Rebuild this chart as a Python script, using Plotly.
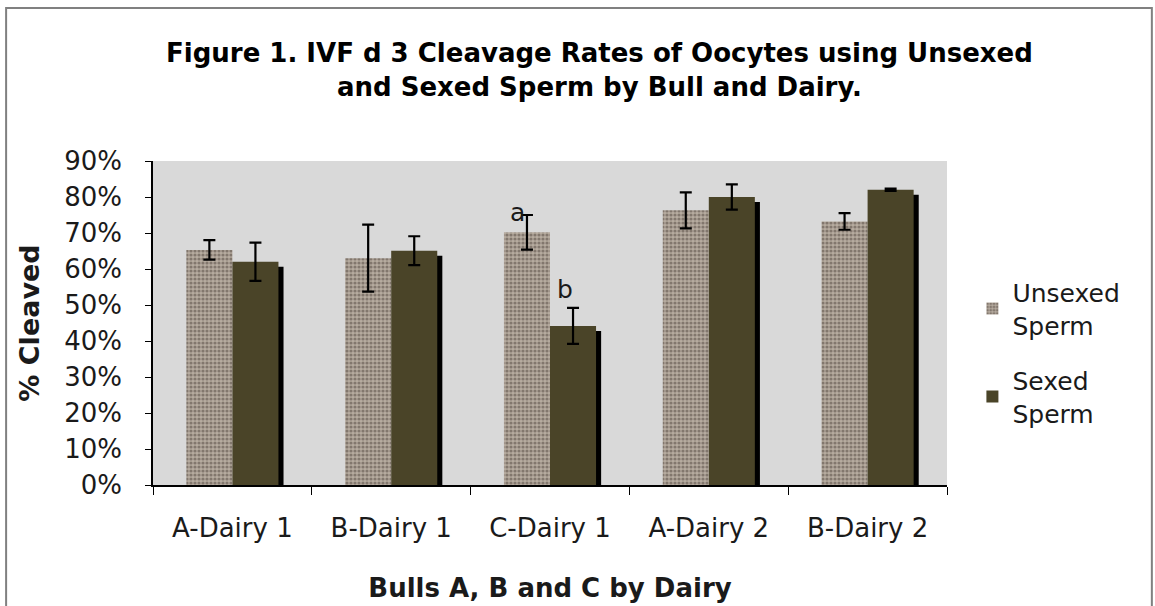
import plotly.graph_objects as go

categories = ["A-Dairy 1", "B-Dairy 1", "C-Dairy 1", "A-Dairy 2", "B-Dairy 2"]
unsexed = [65.3, 63.0, 70.2, 76.3, 73.2]
unsexed_err = [2.7, 9.3, 4.8, 5.0, 2.3]
sexed = [62.0, 65.1, 44.2, 80.0, 82.0]
sexed_err = [5.3, 4.0, 5.0, 3.5, 0.3]
letters = [("C-Dairy 1", "a", "Unsexed"), ("C-Dairy 1", "b", "Sexed")]

FONT = "DejaVu Sans, Verdana, sans-serif"
BW = 0.29  # bar width in category units

fig = go.Figure()

fig.add_bar(
    x=categories, y=unsexed, name="Unsexed<br>Sperm", legendgroup="u",
    width=BW, offset=-BW,
    marker=dict(
        color="#ab9f94", line=dict(width=0),
        pattern=dict(shape=".", bgcolor="#b6ab9f", fgcolor="#4d443c", size=4, solidity=0.5),
    ),
    error_y=dict(type="data", array=unsexed_err, color="black", thickness=2.2, width=6),
)
# drop shadow behind the sexed bars
fig.add_bar(
    x=categories, y=sexed, base=-1.4, width=BW, offset=0.032,
    marker=dict(color="black", line=dict(width=0)),
    showlegend=False, hoverinfo="skip",
)
fig.add_bar(
    x=categories, y=sexed, name="Sexed<br>Sperm", legendgroup="s",
    width=BW, offset=0,
    marker=dict(color="#4a4428", line=dict(width=0)),
    error_y=dict(type="data", array=sexed_err, color="black", thickness=2.2, width=6),
)

for cat, txt, series in letters:
    i = categories.index(cat)
    if series == "Unsexed":
        fig.add_annotation(x=i, y=unsexed[i] + unsexed_err[i], text=txt, showarrow=False,
                           xshift=-33, yshift=3, font=dict(size=25, color="#1a1a1a"))
    else:
        fig.add_annotation(x=i, y=sexed[i] + sexed_err[i], text=txt, showarrow=False,
                           xshift=15, yshift=18, font=dict(size=25, color="#1a1a1a"))

# outer frame
fig.add_shape(type="rect", xref="paper", yref="paper",
              x0=-0.185, x1=1.258, y0=-0.5, y1=1.472,
              line=dict(color="#808080", width=2), layer="below")

fig.update_layout(
    width=1155, height=606,
    margin=dict(l=153, r=208, t=161, b=121, autoexpand=False),
    paper_bgcolor="white", plot_bgcolor="#d9d9d9",
    barmode="overlay",
    font=dict(family=FONT, size=26, color="#1a1a1a"),
    title=dict(
        text="<b>Figure 1. IVF d 3 Cleavage Rates of Oocytes using Unsexed<br>and Sexed Sperm by Bull and Dairy.</b>",
        x=0.519, xanchor="center", y=0.898, yanchor="middle",
        font=dict(size=26, family=FONT, color="black"),
    ),
    legend=dict(
        x=1.032, y=0.665, xanchor="left", yanchor="top",
        font=dict(size=25), tracegroupgap=20, bgcolor="rgba(0,0,0,0)",
    ),
    showlegend=True,
)

fig.update_xaxes(
    showline=True, linecolor="black", linewidth=1.5,
    ticks="outside", tickson="boundaries", ticklen=8, tickcolor="black",
    ticklabelstandoff=19, showgrid=False,
    title=dict(text="<b>Bulls A, B and C by Dairy</b>", font=dict(size=26), standoff=37),
)
fig.update_yaxes(
    range=[0, 90], dtick=10, ticksuffix="%",
    showline=True, linecolor="black", linewidth=1.5,
    ticks="outside", ticklen=6, tickcolor="black", ticklabelstandoff=18,
    showgrid=False, zeroline=False,
    title=dict(text="<b>% Cleaved</b>", font=dict(size=27), standoff=17),
)

# drop the browser's default body margin so the figure sits at (0, 0)
fig.write_html("out.html", config={"displayModeBar": False},
               post_script="document.body.style.margin='0';")
